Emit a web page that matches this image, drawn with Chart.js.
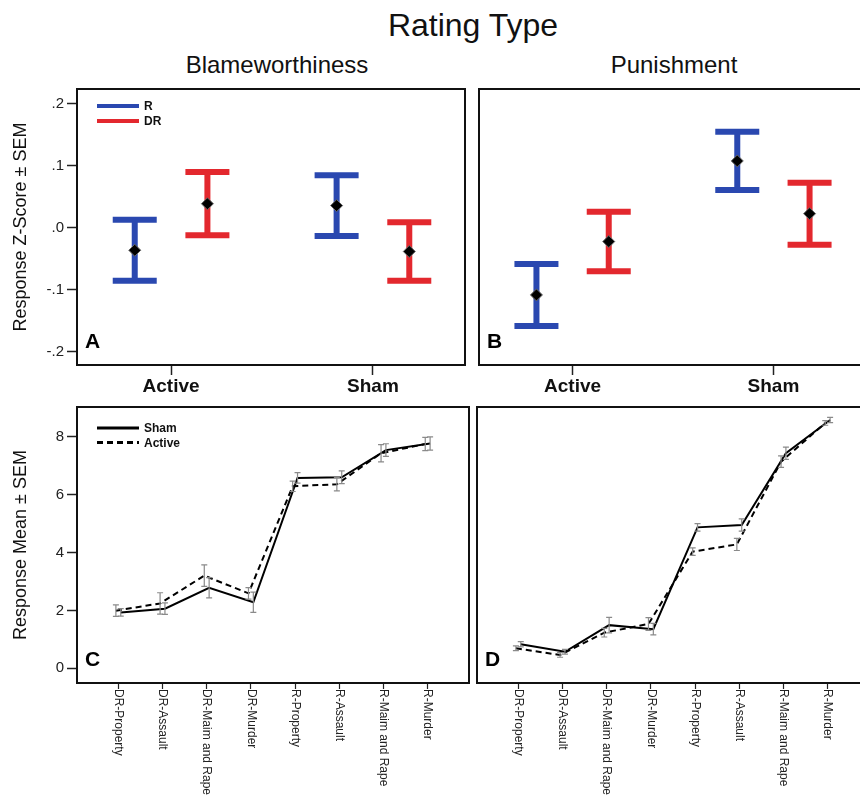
<!DOCTYPE html>
<html>
<head>
<meta charset="utf-8">
<script src="https://cdn.jsdelivr.net/npm/chart.js@4.4.1/dist/chart.umd.min.js"></script>
<style>
  html, body { margin:0; padding:0; background:#fff; overflow:hidden; }
  #page { position:relative; width:860px; height:796px; overflow:hidden; font-family:"Liberation Sans", Arial, sans-serif; color:#111; }
  .hdr { position:absolute; text-align:center; white-space:nowrap; }
  canvas { position:absolute; }
</style>
</head>
<body>
<div id="page">
  <div class="hdr" style="left:273px;top:9px;width:400px;font-size:32px;line-height:32px;">Rating Type</div>
  <div class="hdr" style="left:127px;top:53px;width:300px;font-size:24px;line-height:24px;">Blameworthiness</div>
  <div class="hdr" style="left:524px;top:53px;width:300px;font-size:24px;line-height:24px;">Punishment</div>
  <canvas id="plot-a" width="472" height="320" style="left:0;top:80px;"></canvas>
  <canvas id="plot-b" width="400" height="320" style="left:472px;top:80px;"></canvas>
  <canvas id="plot-c" width="472" height="396" style="left:0;top:400px;"></canvas>
  <canvas id="plot-d" width="400" height="396" style="left:472px;top:400px;"></canvas>
</div>
<script>
// z-score panels (A, B)
const conditions = ['Active', 'Sham'];
const blameR = [-0.036, 0.036];
const blameRSem = [0.049, 0.049];
const blameDR = [0.039, -0.038];
const blameDRSem = [0.051, 0.047];
const punishR = [-0.108, 0.108];
const punishRSem = [0.050, 0.047];
const punishDR = [-0.022, 0.023];
const punishDRSem = [0.048, 0.050];
const zTicks = [-0.2, -0.1, 0, 0.1, 0.2];

// mean panels (C, D)
const crimes = ['DR-Property', 'DR-Assault', 'DR-Maim and Rape', 'DR-Murder',
                'R-Property', 'R-Assault', 'R-Maim and Rape', 'R-Murder'];
const blameSham = [1.93, 2.06, 2.78, 2.28, 6.58, 6.60, 7.54, 7.77];
const blameShamSem = [0.13, 0.20, 0.35, 0.35, 0.18, 0.22, 0.22, 0.23];
const blameActive = [1.99, 2.24, 3.20, 2.59, 6.29, 6.36, 7.43, 7.75];
const blameActiveSem = [0.20, 0.37, 0.37, 0.20, 0.18, 0.23, 0.30, 0.23];
const punishSham = [0.83, 0.57, 1.49, 1.35, 4.87, 4.95, 7.43, 8.58];
const punishShamSem = [0.09, 0.08, 0.27, 0.20, 0.13, 0.21, 0.21, 0.09];
const punishActive = [0.69, 0.46, 1.23, 1.53, 4.03, 4.28, 7.14, 8.48];
const punishActiveSem = [0.08, 0.08, 0.15, 0.22, 0.13, 0.21, 0.20, 0.08];
const meanTicks = [0, 2, 4, 6, 8];

const FONT = '"Liberation Sans", Arial, sans-serif';
const BLUE = '#2a48b0';
const RED = '#e3282e';
Chart.defaults.font.family = FONT;
Chart.defaults.color = '#111';

// error bars: vertical line + caps, from dataset.sem
const errorBars = {
  id: 'errorBars',
  beforeDatasetsDraw(chart, args, opts) { if (opts.under) drawBars(chart, opts); },
  afterDatasetsDraw(chart, args, opts) { if (!opts.under) drawBars(chart, opts); }
};
function drawBars(chart, opts) {
  const ctx = chart.ctx, y = chart.scales.y;
  chart.data.datasets.forEach((ds, i) => {
    const meta = chart.getDatasetMeta(i);
    ctx.save();
    ctx.strokeStyle = ds.barColor || opts.color;
    ctx.lineWidth = opts.width;
    ctx.setLineDash([]);
    ds.data.forEach((p, j) => {
      const x = meta.data[j].x;
      const top = y.getPixelForValue(p.y + ds.sem[j]);
      const bot = y.getPixelForValue(p.y - ds.sem[j]);
      ctx.beginPath();
      ctx.moveTo(x, top); ctx.lineTo(x, bot);
      ctx.moveTo(x - opts.cap, top); ctx.lineTo(x + opts.cap, top);
      ctx.moveTo(x - opts.cap, bot); ctx.lineTo(x + opts.cap, bot);
      ctx.stroke();
    });
    ctx.restore();
  });
}

// box around plot, panel letter, little legend
const frame = {
  id: 'frame',
  afterDraw(chart, args, opts) {
    const ctx = chart.ctx, a = chart.chartArea;
    ctx.save();
    ctx.strokeStyle = '#111';
    ctx.lineWidth = 2;
    ctx.strokeRect(a.left, a.top, a.right - a.left, a.bottom - a.top);
    ctx.fillStyle = '#000';
    ctx.font = 'bold 21px ' + FONT;
    ctx.textBaseline = 'alphabetic';
    ctx.textAlign = 'left';
    ctx.fillText(opts.letter, a.left + 8, a.bottom - 17);
    if (opts.legend) {
      chart.data.datasets.forEach((ds, i) => {
        const ly = a.top + opts.legendTop + i * opts.legendGap;
        ctx.beginPath();
        ctx.strokeStyle = ds.barColor || ds.borderColor;
        ctx.lineWidth = opts.legendWidth;
        ctx.setLineDash(ds.borderDash || []);
        ctx.moveTo(a.left + 20, ly);
        ctx.lineTo(a.left + 62, ly);
        ctx.stroke();
        ctx.setLineDash([]);
        ctx.font = 'bold 12px ' + FONT;
        ctx.textBaseline = 'middle';
        ctx.fillStyle = '#111';
        ctx.fillText(ds.label, a.left + 67, ly + 1);
      });
    }
    ctx.restore();
  }
};

// crime labels read top to bottom under the axis
const downLabels = {
  id: 'downLabels',
  afterDraw(chart) {
    const ctx = chart.ctx, x = chart.scales.x, a = chart.chartArea;
    ctx.save();
    ctx.font = '12px ' + FONT;
    ctx.fillStyle = '#222';
    ctx.textAlign = 'left';
    ctx.textBaseline = 'middle';
    crimes.forEach((c, i) => {
      ctx.save();
      ctx.translate(x.getPixelForValue(i), a.bottom + 6);
      ctx.rotate(Math.PI / 2);
      ctx.fillText(c, 0, 0);
      ctx.restore();
    });
    ctx.restore();
  }
};

function fmtZ(v) {
  if (Math.abs(v) < 1e-9) return '.0';
  return (v < 0 ? '-' : '') + Math.abs(v).toFixed(1).slice(1);
}

function zChart(id, r, rSem, dr, drSem, showY, letter) {
  const off = 0.18;
  return new Chart(document.getElementById(id), {
    type: 'scatter',
    data: {
      datasets: [
        { label: 'R', barColor: BLUE, sem: rSem,
          data: r.map((v, i) => ({ x: i + 0.5 - off, y: v })) },
        { label: 'DR', barColor: RED, sem: drSem,
          data: dr.map((v, i) => ({ x: i + 0.5 + off, y: v })) }
      ]
    },
    options: {
      responsive: false,
      animation: false,
      layout: { padding: { top: 9, right: 3, left: showY ? 0 : 5 } },
      elements: { point: { pointStyle: 'rectRot', radius: 6, backgroundColor: '#000', borderColor: '#666', borderWidth: 1 } },
      plugins: {
        legend: { display: false },
        tooltip: { enabled: false },
        errorBars: { under: true, width: 6, cap: 22 },
        frame: { letter: letter, legend: showY, legendTop: 17, legendGap: 15, legendWidth: 4 }
      },
      scales: {
        x: {
          type: 'linear', min: 0.034, max: 1.956,
          afterBuildTicks: s => { s.ticks = conditions.map((c, i) => ({ value: i + 0.5 })); },
          ticks: { callback: (v, i) => conditions[i], font: { size: 19, weight: 'bold' }, color: '#111', padding: 0, maxRotation: 0, autoSkip: false },
          grid: { drawOnChartArea: false, tickLength: 10, tickColor: '#222', tickWidth: 1.5 },
          border: { display: false },
          afterFit: s => { s.height = 35; s.paddingLeft = 0; s.paddingRight = 0; }
        },
        y: {
          display: showY,
          min: -0.221, max: 0.224,
          afterBuildTicks: s => { s.ticks = zTicks.map(v => ({ value: v })); },
          ticks: { callback: v => fmtZ(v), font: { size: 15 }, color: '#222', padding: 3 },
          grid: { drawOnChartArea: false, tickLength: 10, tickColor: '#222', tickWidth: 1.5 },
          border: { display: false },
          title: { display: true, text: 'Response Z-Score ± SEM', font: { size: 18 }, color: '#111', padding: { top: 10, bottom: 0 } },
          afterFit: s => { s.width = showY ? 77 : 0; s.paddingTop = 0; s.paddingBottom = 0; }
        }
      }
    },
    plugins: [errorBars, frame]
  });
}

function meanChart(id, sham, shamSem, active, activeSem, showY, letter) {
  const off = 0.055;
  return new Chart(document.getElementById(id), {
    type: 'scatter',
    data: {
      datasets: [
        { label: 'Sham', sem: shamSem, showLine: true, borderColor: '#000', borderWidth: 2,
          data: sham.map((v, i) => ({ x: i + off, y: v })) },
        { label: 'Active', sem: activeSem, showLine: true, borderColor: '#000', borderWidth: 2, borderDash: [6, 4],
          data: active.map((v, i) => ({ x: i - off, y: v })) }
      ]
    },
    options: {
      responsive: false,
      animation: false,
      layout: { padding: { top: 7, right: 3, left: showY ? 0 : 5 } },
      elements: { point: { radius: 0 }, line: { tension: 0 } },
      plugins: {
        legend: { display: false },
        tooltip: { enabled: false },
        errorBars: { under: false, width: 1.2, cap: 3, color: '#8a8a8a' },
        frame: { letter: letter, legend: showY, legendTop: 21, legendGap: 14.5, legendWidth: 3 }
      },
      scales: {
        x: {
          type: 'linear', min: -0.935, max: 7.935,
          afterBuildTicks: s => { s.ticks = crimes.map((c, i) => ({ value: i })); },
          ticks: { display: false },
          grid: { drawOnChartArea: false, tickLength: 6, tickColor: '#222', tickWidth: 1.2 },
          border: { display: false },
          afterFit: s => { s.height = 113; s.paddingLeft = 0; s.paddingRight = 0; }
        },
        y: {
          display: showY,
          min: -0.51, max: 9.03,
          afterBuildTicks: s => { s.ticks = meanTicks.map(v => ({ value: v })); },
          ticks: { font: { size: 15 }, color: '#222', padding: 3 },
          grid: { drawOnChartArea: false, tickLength: 10, tickColor: '#222', tickWidth: 1.5 },
          border: { display: false },
          title: { display: true, text: 'Response Mean ± SEM', font: { size: 18 }, color: '#111', padding: { top: 10, bottom: 0 } },
          afterFit: s => { s.width = showY ? 77 : 0; s.paddingTop = 0; s.paddingBottom = 0; }
        }
      }
    },
    plugins: [errorBars, frame, downLabels]
  });
}

zChart('plot-a', blameR, blameRSem, blameDR, blameDRSem, true, 'A');
zChart('plot-b', punishR, punishRSem, punishDR, punishDRSem, false, 'B');
meanChart('plot-c', blameSham, blameShamSem, blameActive, blameActiveSem, true, 'C');
meanChart('plot-d', punishSham, punishShamSem, punishActive, punishActiveSem, false, 'D');
</script>
</body>
</html>
